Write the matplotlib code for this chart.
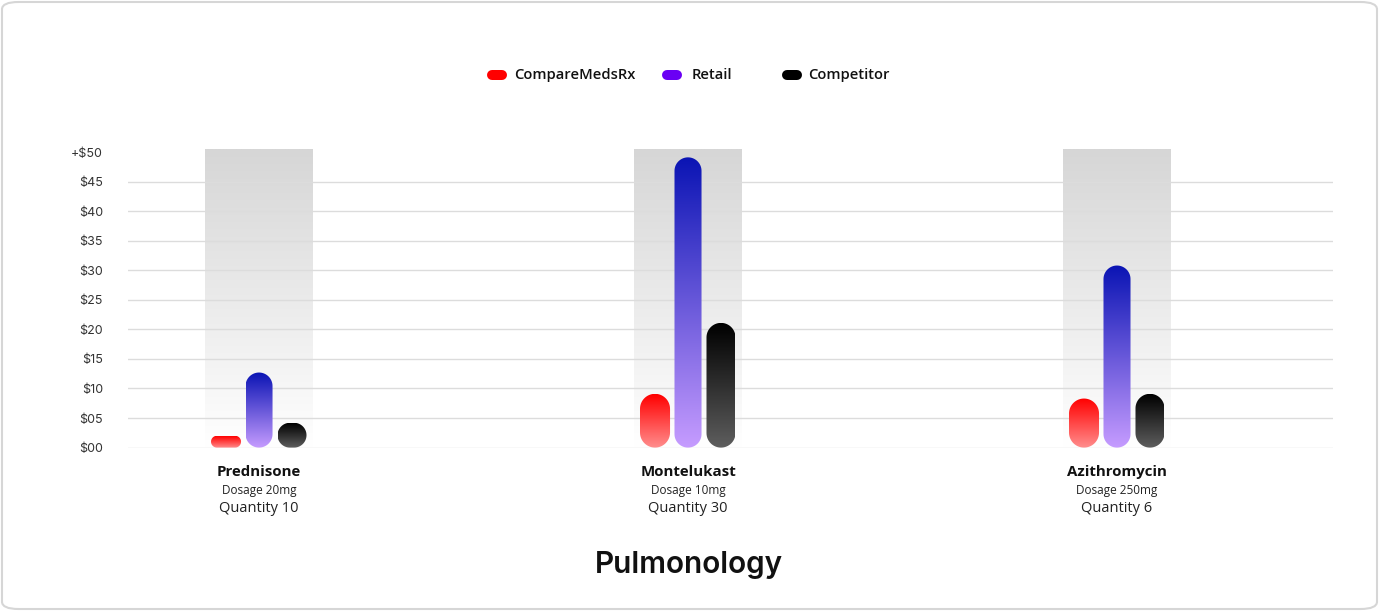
import numpy as np
import matplotlib
matplotlib.use("Agg")
import matplotlib.pyplot as plt
from matplotlib.colors import LinearSegmentedColormap
from matplotlib.patches import PathPatch, FancyBboxPatch
from matplotlib.path import Path
from matplotlib.lines import Line2D
from matplotlib.transforms import blended_transform_factory

# data
drugs = ["Prednisone", "Montelukast", "Azithromycin"]
dosages = ["Dosage 20mg", "Dosage 10mg", "Dosage 250mg"]
quantities = ["Quantity 10", "Quantity 30", "Quantity 6"]
series = ["CompareMedsRx", "Retail", "Competitor"]
comparemeds = [2.0, 9.1, 8.3]
retail = [12.7, 49.1, 30.8]
competitor = [4.2, 21.1, 9.1]
yticks = [0, 5, 10, 15, 20, 25, 30, 35, 40, 45, 50]
ytick_labels = ["$00", "$05", "$10", "$15", "$20", "$25", "$30", "$35", "$40", "$45", "+$50"]

W, H = 1379, 611
fig = plt.figure(figsize=(W / 100, H / 100), dpi=100)
fig.patch.set_facecolor("white")

# outer card border
fig.patches.append(FancyBboxPatch((2 / W, 2 / H), (W - 4) / W, (H - 4) / H,
                                  boxstyle="round,pad=0,rounding_size=0.012",
                                  transform=fig.transFigure, fc="none",
                                  ec="#d6d6d6", lw=1.5, zorder=-1))

ax = fig.add_axes([128 / W, (H - 447.6) / H, (1333 - 128) / W, (447.6 - 148.6) / H])
ax.set_facecolor("none")
xlim = (-0.3054, 2.5035)
ylim = (0, 50.58)
ax.set_xlim(*xlim)
ax.set_ylim(*ylim)

sx = (ax.transData.transform((1, 0)) - ax.transData.transform((0, 0)))[0]
sy = (ax.transData.transform((0, 1)) - ax.transData.transform((0, 0)))[1]


def rounded_path(x0, x1, y0, y1, r_px):
    rx, ry = r_px / sx, r_px / sy
    pts = []
    corners = [(x1 - rx, y1 - ry, 0, 90), (x0 + rx, y1 - ry, 90, 180),
               (x0 + rx, y0 + ry, 180, 270), (x1 - rx, y0 + ry, 270, 360)]
    for cx, cy, a0, a1 in corners:
        t = np.radians(np.linspace(a0, a1, 20))
        pts += list(zip(cx + rx * np.cos(t), cy + ry * np.sin(t)))
    pts.append(pts[0])
    return Path(pts, closed=True)


def gradient_fill(x0, x1, y0, y1, top, bottom, clip=None, z=2):
    cmap = LinearSegmentedColormap.from_list("g", [bottom, top])
    grad = np.linspace(0, 1, 256).reshape(-1, 1)
    im = ax.imshow(grad, extent=[x0, x1, y0, y1], origin="lower", aspect="auto",
                   cmap=cmap, zorder=z, interpolation="bilinear")
    if clip is not None:
        patch = PathPatch(clip, fc="none", ec="none", transform=ax.transData)
        ax.add_patch(patch)
        im.set_clip_path(patch)


# shaded bands behind each group
band_w = 0.2517
for i in range(len(drugs)):
    gradient_fill(i - band_w / 2, i + band_w / 2, 0, ylim[1], "#d6d6d6", "#ffffff", z=0)

# grid lines
for v in yticks[:-1]:
    ax.axhline(v, color="#dcdcdc", lw=1, zorder=1)

offsets = [-0.0769, 0.0, 0.0769]
widths = [0.070, 0.063, 0.0676]
grads = [("#ff0000", "#ff8e8e"), ("#0a14b4", "#c69cff"), ("#000000", "#5e5e5e")]
for s, vals in enumerate([comparemeds, retail, competitor]):
    for i, v in enumerate(vals):
        x0 = i + offsets[s] - widths[s] / 2
        x1 = i + offsets[s] + widths[s] / 2
        r = min(widths[s] * sx, v * sy) / 2
        path = rounded_path(x0, x1, 0, v, r)
        gradient_fill(x0, x1, 0, v, grads[s][0], grads[s][1], clip=path, z=2)

ax.set_xlim(*xlim)
ax.set_ylim(*ylim)
for sp in ax.spines.values():
    sp.set_visible(False)
ax.set_xticks([])
ax.set_yticks(yticks)
ax.set_yticklabels(ytick_labels, fontfamily="Inter", fontsize=9, color="#333333")
ax.tick_params(axis="y", length=0, pad=18)

# category labels
tr = blended_transform_factory(ax.transData, fig.transFigure)
for i in range(len(drugs)):
    ax.text(i, 1 - 472 / H, drugs[i], transform=tr, ha="center", va="center",
            fontfamily="Open Sans", fontweight="bold", fontsize=10.8, color="#111111")
    ax.text(i, 1 - 490.5 / H, dosages[i], transform=tr, ha="center", va="center",
            fontfamily="Open Sans", fontsize=8.5, color="#222222")
    ax.text(i, 1 - 509 / H, quantities[i], transform=tr, ha="center", va="center",
            fontfamily="Open Sans", fontsize=10.5, color="#222222")

# legend
leg_colors = ["#ff0000", "#6a00f4", "#000000"]
leg_marker_x = [497, 672, 792]
leg_text_x = [514, 692, 808]
for c, mx, tx, name in zip(leg_colors, leg_marker_x, leg_text_x, series):
    fig.add_artist(Line2D([(mx - 5) / W, (mx + 5) / W], [1 - 75 / H, 1 - 75 / H],
                          transform=fig.transFigure, color=c, lw=7.2,
                          solid_capstyle="round"))
    fig.text(tx / W, 1 - 75 / H, name, ha="left", va="center",
             fontfamily="Open Sans", fontweight="semibold", fontsize=10.6, color="#111111")

fig.text(689 / W, 1 - 565 / H, "Pulmonology", ha="center", va="center",
         fontfamily="Inter", fontweight="semibold", fontsize=21.4, color="#111111")

fig.savefig("out.png", dpi=100)
